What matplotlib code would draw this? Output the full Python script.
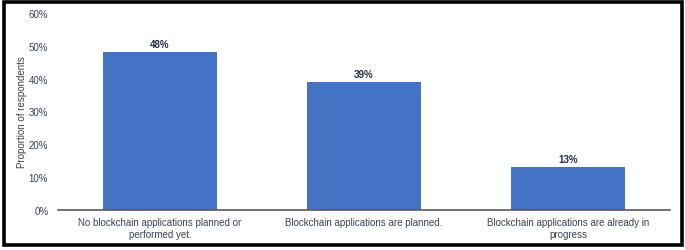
import matplotlib.pyplot as plt
from matplotlib.patches import Rectangle

plt.rcParams['font.family'] = ['Liberation Sans', 'DejaVu Sans']

# Dane
categories = ['No blockchain applications planned or\nperformed yet.',
              'Blockchain applications are planned.',
              'Blockchain applications are already in\nprogress']
values = [48, 39, 13]
yticks = [0, 10, 20, 30, 40, 50, 60]

bar_color = '#4472C4'
text_color = '#3A4352'

fig = plt.figure(figsize=(6.85, 2.51), dpi=100)
ax = fig.add_axes([58 / 685, 40 / 251, 612 / 685, 197 / 251])

x = range(len(categories))
bars = ax.bar(x, values, width=0.56, color=bar_color)

# Etykiety nad słupkami
for b, v in zip(bars, values):
    ax.text(b.get_x() + b.get_width() / 2, v + 0.9, f'{v}%', ha='center', va='bottom',
            fontsize=7, fontweight='bold', color='#262F3D')

ax.set_xlim(-0.5, 2.5)
ax.set_ylim(0, 60)
ax.set_yticks(yticks)
ax.set_yticklabels([f'{t}%' for t in yticks])
ax.set_xticks(list(x))
ax.set_xticklabels(categories)
ax.tick_params(axis='both', length=0, labelsize=7, colors=text_color)
ax.tick_params(axis='y', pad=7)
ax.tick_params(axis='x', pad=5)

for s in ['top', 'right', 'left']:
    ax.spines[s].set_visible(False)
ax.spines['bottom'].set_color('#595959')
ax.spines['bottom'].set_linewidth(1.2)

ax.set_ylabel('Proportion of respondents', fontsize=7, color=text_color, labelpad=1)

# Ramka wokół wykresu
fig.patches.append(Rectangle((3.5 / 685, 5.5 / 251), 678 / 685, 242.5 / 251,
                             transform=fig.transFigure, fill=False,
                             edgecolor='black', linewidth=2.6))

fig.savefig('out.png', dpi=100)
